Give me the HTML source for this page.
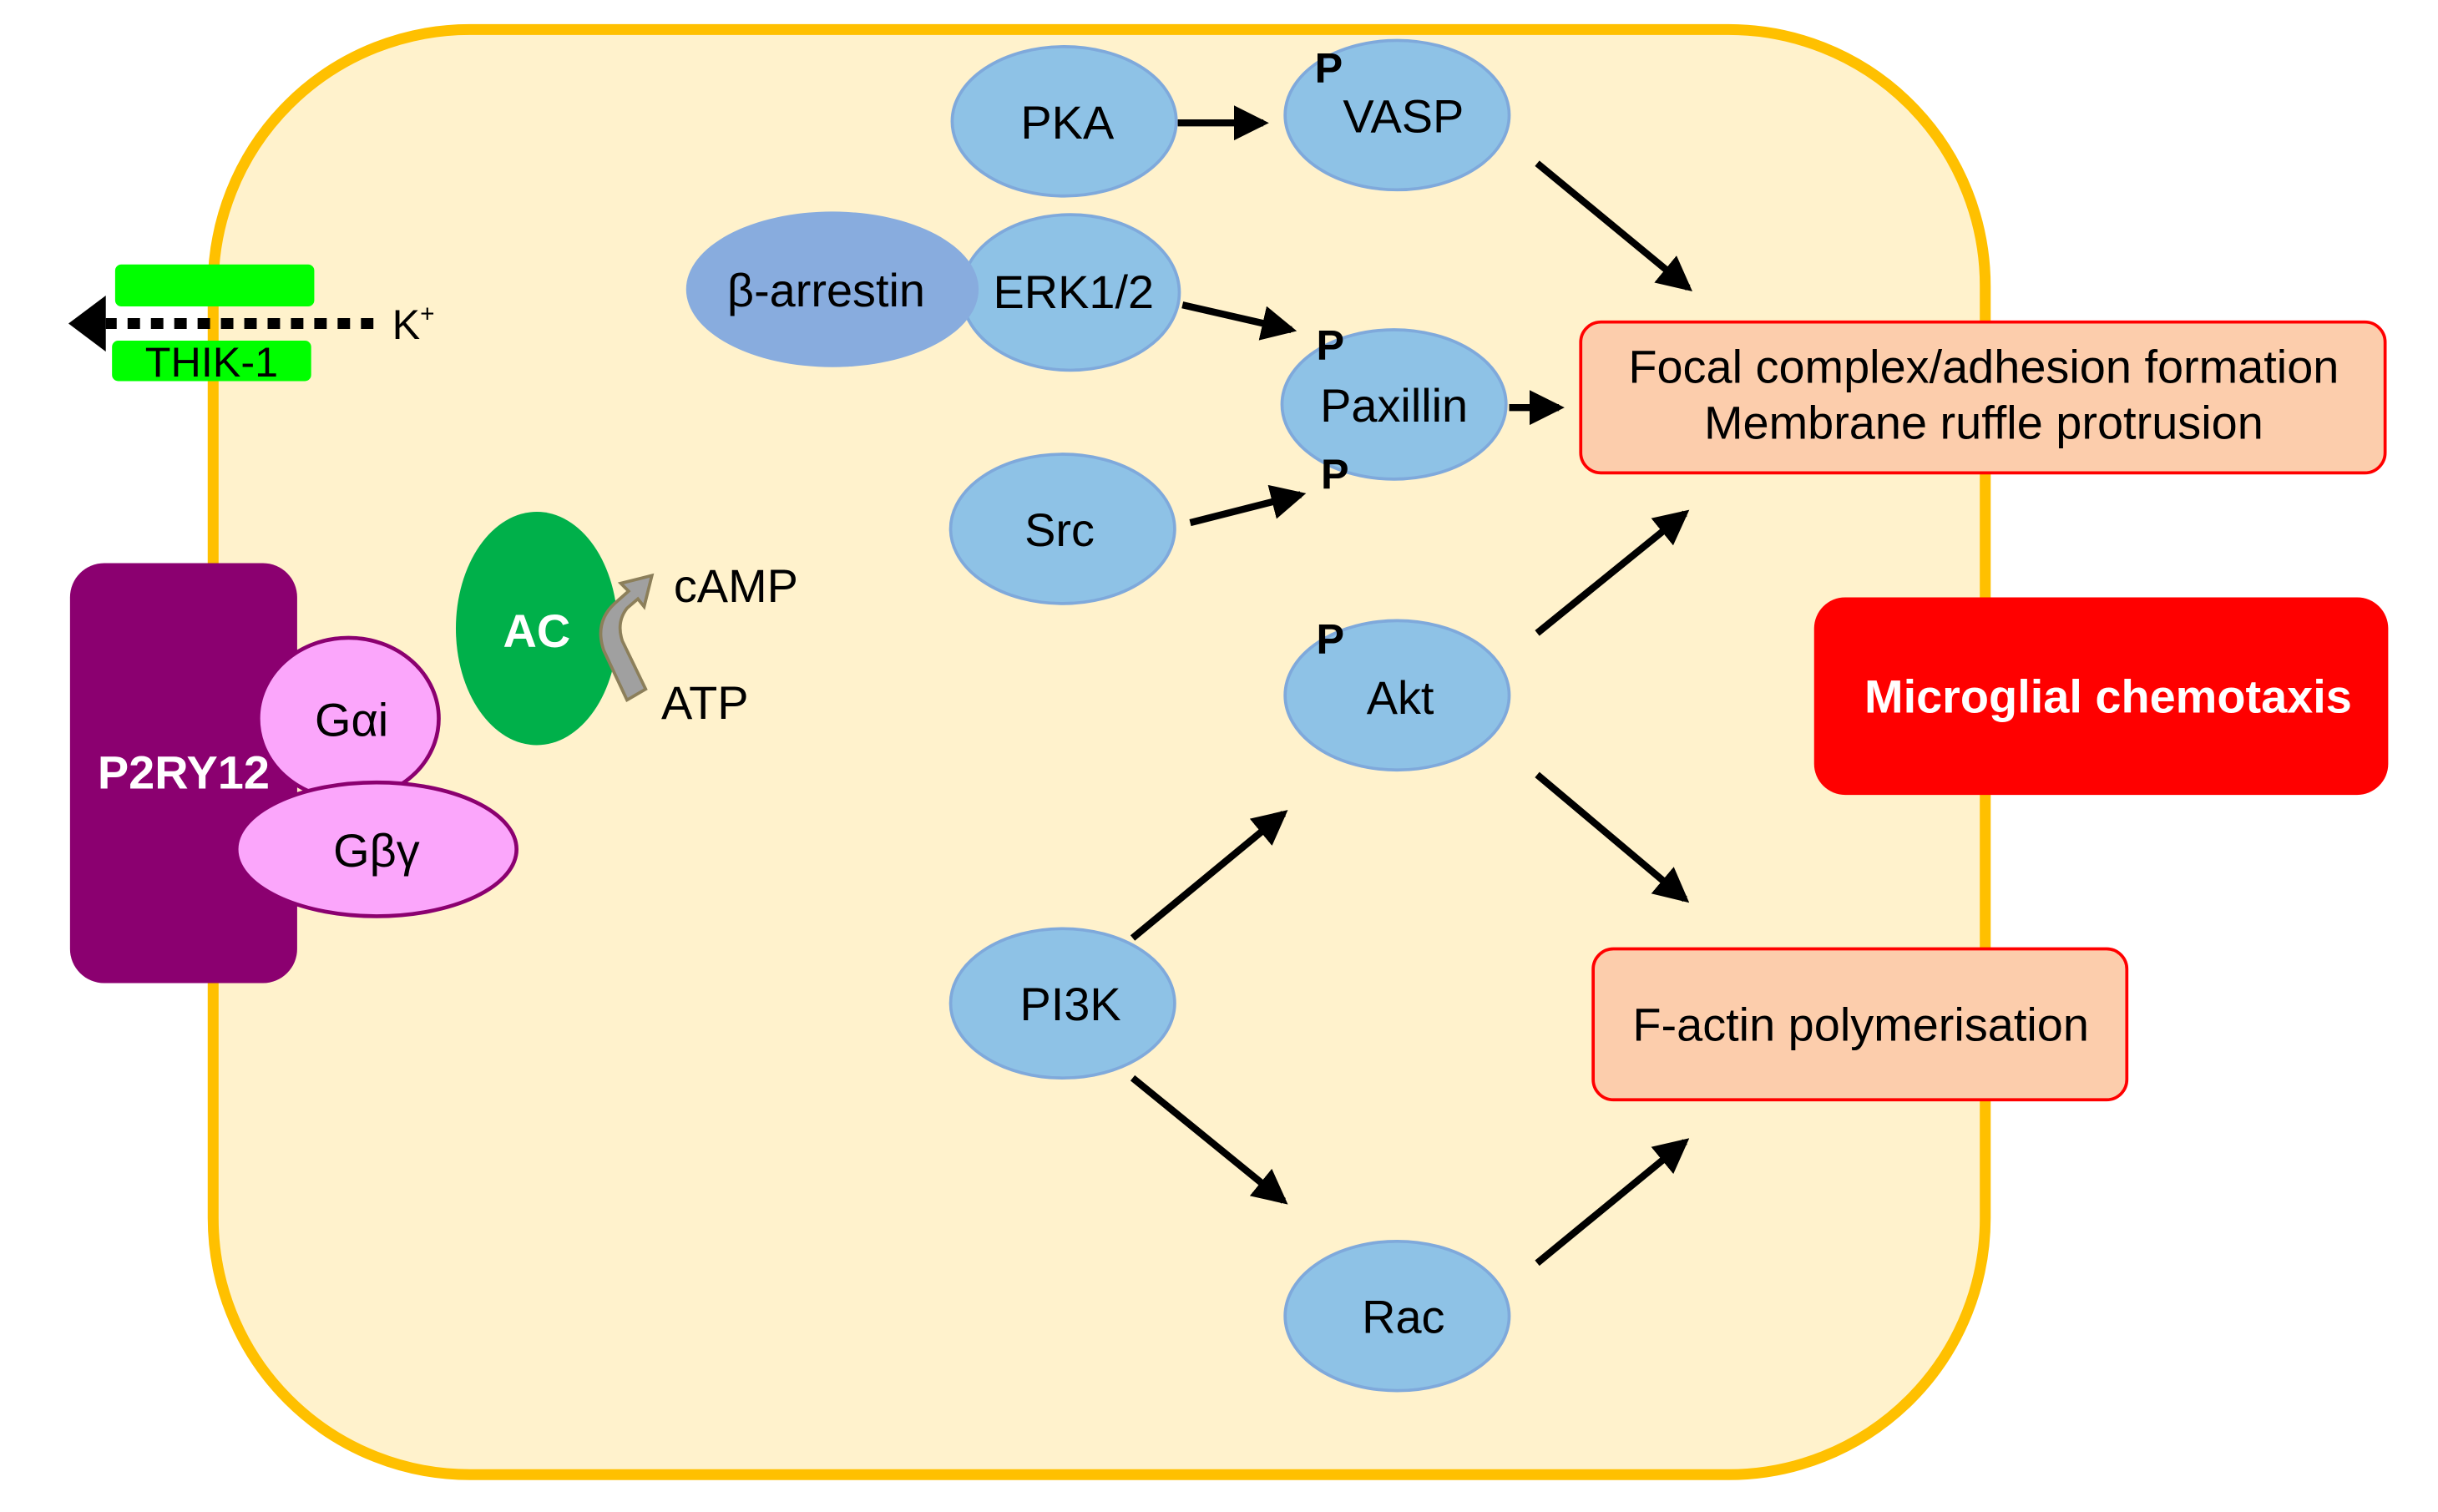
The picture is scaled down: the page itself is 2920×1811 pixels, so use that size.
<!DOCTYPE html>
<html><head><meta charset="utf-8"><style>
html,body{margin:0;padding:0;background:#fff;}
svg{display:block;}
text{font-family:"Liberation Sans",sans-serif;}
</style></head><body>
<svg width="2920" height="1811" viewBox="0 0 1567 972" preserveAspectRatio="none" xmlns="http://www.w3.org/2000/svg">
<defs>
<marker id="ah" markerWidth="5" markerHeight="5" refX="4.2" refY="2.5" orient="auto" markerUnits="strokeWidth">
<path d="M0,0 L5,2.5 L0,5 z" fill="#000"/>
</marker>
</defs>
<rect x="137" y="19" width="1139" height="929" rx="165" ry="165" fill="#FFF2CC" stroke="#FFC000" stroke-width="7"/>

<!-- THIK-1 -->
<rect x="74" y="170" width="128" height="27" rx="4" fill="#00FF00"/>
<rect x="72" y="219" width="128" height="26" rx="4" fill="#00FF00"/>
<text x="136" y="242" font-size="27" text-anchor="middle">THIK-1</text>
<line x1="240" y1="208" x2="68" y2="208" stroke="#000" stroke-width="7" stroke-dasharray="8,7"/>
<path d="M44,208 L68,190 L68,226 z" fill="#000"/>
<text x="252" y="218" font-size="27">K<tspan font-size="16" dy="-11">+</tspan></text>

<!-- P2RY12 -->
<rect x="45" y="362" width="146" height="270" rx="22" fill="#8B0070"/>
<text x="118" y="507" font-size="30" font-weight="bold" fill="#fff" text-anchor="middle">P2RY12</text>
<ellipse cx="224" cy="462" rx="58" ry="52" fill="#FBA6FB" stroke="#8B0070" stroke-width="2.5"/>
<text x="226" y="473" font-size="30" text-anchor="middle">Gαi</text>
<ellipse cx="242" cy="546" rx="90" ry="43" fill="#FBA6FB" stroke="#8B0070" stroke-width="2.5"/>
<text x="242" y="557" font-size="30" text-anchor="middle">Gβγ</text>

<!-- AC -->
<ellipse cx="345" cy="404" rx="52" ry="75" fill="#00B04A"/>
<text x="345" y="416" font-size="30" font-weight="bold" fill="#fff" text-anchor="middle">AC</text>
<path d="M403,450 L388,418 Q382,400 395,388 L404,380 L399,375 L419,370 L414,390 L410,385 L403,391 Q396,400 400,412 L415,443 z" fill="#A0A0A0" stroke="#8C7F5A" stroke-width="2"/>
<text x="433" y="387" font-size="30">cAMP</text>
<text x="425" y="462" font-size="30">ATP</text>

<!-- blue nodes -->
<g fill="#8EC2E6" stroke="#7FA9DB" stroke-width="2">
<ellipse cx="684" cy="78" rx="72" ry="48"/>
<ellipse cx="898" cy="74" rx="72" ry="48"/>
<ellipse cx="896" cy="260" rx="72" ry="48"/>
<ellipse cx="688" cy="188" rx="70" ry="50"/>
<ellipse cx="683" cy="340" rx="72" ry="48"/>
<ellipse cx="898" cy="447" rx="72" ry="48"/>
<ellipse cx="683" cy="645" rx="72" ry="48"/>
<ellipse cx="898" cy="846" rx="72" ry="48"/>
</g>
<ellipse cx="535" cy="186" rx="94" ry="50" fill="#88ACDE"/>
<g font-size="30" text-anchor="middle">
<text x="686" y="89">PKA</text>
<text x="902" y="85">VASP</text>
<text x="531" y="197">β-arrestin</text>
<text x="690" y="198">ERK1/2</text>
<text x="896" y="271">Paxillin</text>
<text x="681" y="351">Src</text>
<text x="900" y="459">Akt</text>
<text x="688" y="656">PI3K</text>
<text x="902" y="857">Rac</text>
</g>
<g font-size="27" font-weight="bold">
<text x="845" y="53">P</text>
<text x="846" y="231">P</text>
<text x="849" y="314">P</text>
<text x="846" y="420">P</text>
</g>

<!-- boxes -->
<rect x="1016" y="207" width="517" height="97" rx="13" fill="#FCCDAC" stroke="#FF0000" stroke-width="2"/>
<text x="1275" y="246" font-size="30" text-anchor="middle">Focal complex/adhesion formation</text>
<text x="1275" y="282" font-size="30" text-anchor="middle">Membrane ruffle protrusion</text>
<rect x="1166" y="384" width="369" height="127" rx="20" fill="#FF0000"/>
<text x="1355" y="458" font-size="30" font-weight="bold" fill="#fff" text-anchor="middle">Microglial chemotaxis</text>
<rect x="1024" y="610" width="343" height="97" rx="13" fill="#FCCDAC" stroke="#FF0000" stroke-width="2"/>
<text x="1196" y="669" font-size="30" text-anchor="middle">F-actin polymerisation</text>

<!-- arrows -->
<g stroke="#000" stroke-width="4.5" marker-end="url(#ah)">
<line x1="757" y1="79" x2="812" y2="79"/>
<line x1="988" y1="105" x2="1085" y2="185"/>
<line x1="760" y1="196" x2="830" y2="212"/>
<line x1="970" y1="262" x2="1002" y2="262"/>
<line x1="765" y1="336" x2="836" y2="318"/>
<line x1="988" y1="407" x2="1083" y2="330"/>
<line x1="988" y1="498" x2="1083" y2="578"/>
<line x1="728" y1="603" x2="825" y2="523"/>
<line x1="728" y1="693" x2="825" y2="772"/>
<line x1="988" y1="812" x2="1083" y2="734"/>
</g>
</svg>
</body></html>
